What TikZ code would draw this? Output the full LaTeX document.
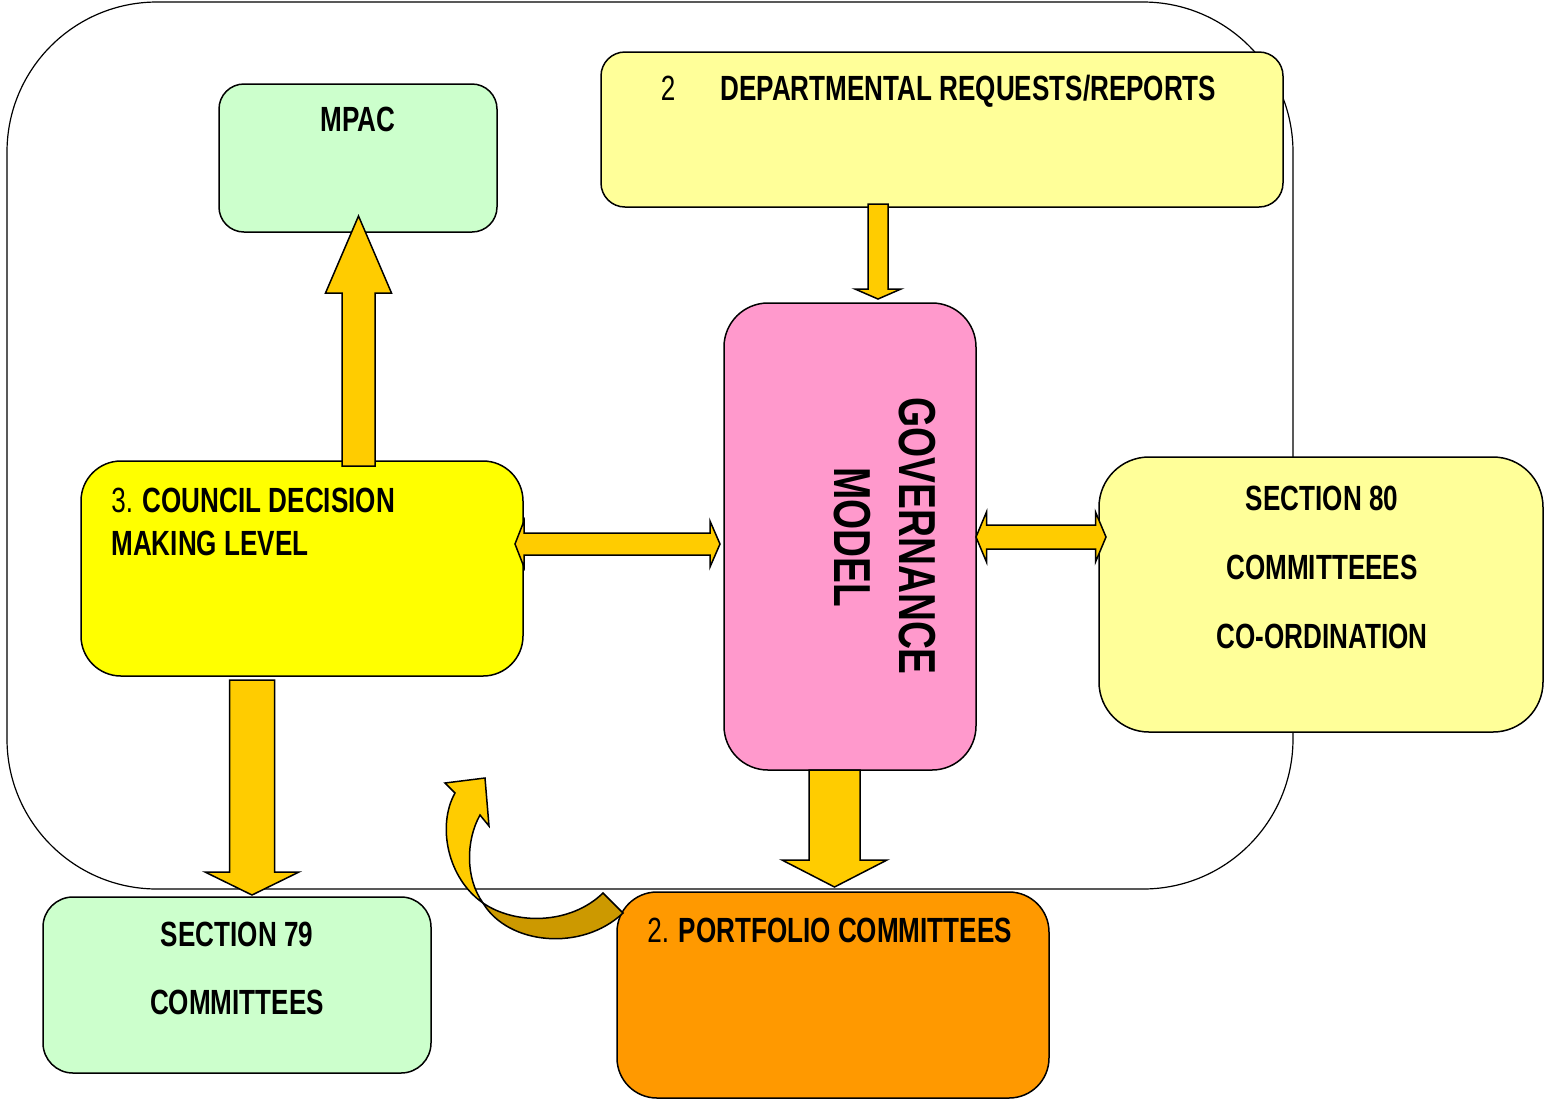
\documentclass[tikz,border=0pt]{standalone}
\usepackage{fontspec}
\setmainfont{Liberation Sans}[FakeStretch=0.745]
\usetikzlibrary{calc}
\definecolor{mpacgreen}{HTML}{CCFFCC}
\definecolor{paleyellow}{HTML}{FFFF99}
\definecolor{brightyellow}{HTML}{FFFF00}
\definecolor{govpink}{HTML}{FF99CC}
\definecolor{portorange}{HTML}{FF9900}
\definecolor{arrowgold}{HTML}{FFCC00}
\definecolor{arrowdark}{HTML}{CC9900}
\begin{document}
\begin{tikzpicture}[x=0.5pt,y=-0.5pt,
  boxstyle/.style={draw=black, line width=0.75pt, rectangle, inner sep=0pt},
  lbl/.style={font=\fontsize{17.5}{21}\selectfont\bfseries, inner sep=0pt},
  govlbl/.style={font=\fontsize{26}{30}\selectfont\bfseries, inner sep=0pt, rotate=-90, anchor=base},
  fatarrow/.style={draw=black, line width=0.75pt, fill=arrowgold, line join=miter}]
\useasboundingbox (0,0) rectangle (1544,1100);
% outer frame
\draw[line width=0.6pt, rounded corners=75pt] (7,2) rectangle (1293,889);
% boxes
\node[boxstyle, fill=mpacgreen, rounded corners=12.5pt, minimum width=139pt, minimum height=74pt] (mpac) at (358,158) {};
\node[boxstyle, fill=paleyellow, rounded corners=12pt, minimum width=341pt, minimum height=77.5pt] (dept) at (942,129.5) {};
\node[boxstyle, fill=govpink, rounded corners=22pt, minimum width=126pt, minimum height=233.5pt] (gov) at (850,536.5) {};
\node[boxstyle, fill=brightyellow, rounded corners=20pt, minimum width=221pt, minimum height=107.5pt] (council) at (302,568.5) {};
\node[boxstyle, fill=paleyellow, rounded corners=25pt, minimum width=222pt, minimum height=137.5pt] (sec80) at (1321,594.5) {};
\node[boxstyle, fill=mpacgreen, rounded corners=15pt, minimum width=194pt, minimum height=88pt] (sec79) at (237,985) {};
\node[boxstyle, fill=portorange, rounded corners=20pt, minimum width=216pt, minimum height=103pt] (port) at (833,995) {};
% texts
\node[lbl, anchor=base] (tmpac) at (358,131.5) {MPAC};
\node[lbl, anchor=base, font=\fontsize{17.5}{21}\selectfont] (tdeptnum) at (668,100.5) {2};
\node[lbl, anchor=base west] (tdept) at (720,100.5) {DEPARTMENTAL REQUESTS/REPORTS};
\node[lbl, anchor=base west] (tcouncila) at (111,512.5) {\mdseries 3. \bfseries COUNCIL DECISION};
\node[lbl, anchor=base west] (tcouncilb) at (111,555.5) {MAKING LEVEL};
\node[lbl, anchor=base] (tsa) at (1322,510.5) {SECTION 80};
\node[lbl, anchor=base] (tsb) at (1322,579.5) {COMMITTEEES};
\node[lbl, anchor=base] (tsc) at (1322,648.5) {CO-ORDINATION};
\node[lbl, anchor=base] (tsd) at (237,946.5) {SECTION 79};
\node[lbl, anchor=base] (tse) at (237,1014.5) {COMMITTEES};
\node[lbl, anchor=base west] (tport) at (647,942.5) {\mdseries 2. \bfseries PORTFOLIO COMMITTEES};
\node[govlbl] (tgova) at (899,536) {GOVERNANCE};
\node[govlbl] (tgovb) at (834,537) {MODEL};
% arrow end coordinates
\coordinate (upS) at (358.5,466);
\coordinate (upT) at (358.5,216);
\coordinate (dpS) at (878,204);
\coordinate (dpT) at (878,299);
\coordinate (cgL) at (515,544);
\coordinate (cgR) at (720,544);
\coordinate (gsL) at (976,537);
\coordinate (gsR) at (1106,537);
\coordinate (c7S) at (252,680);
\coordinate (c7T) at (252,895);
\coordinate (gpS) at (834.5,770);
\coordinate (gpT) at (834.5,887);
% council -> MPAC
\draw[fatarrow] ($(upS)+(-16.5,0)$) -- ($(upS)+(16.5,0)$) -- ($(upT)+(16.5,77)$) -- ($(upT)+(33,77)$) -- (upT) -- ($(upT)+(-33,77)$) -- ($(upT)+(-16.5,77)$) -- cycle;
% dept -> governance
\draw[fatarrow] ($(dpS)+(-10,0)$) -- ($(dpS)+(10,0)$) -- ($(dpT)+(10,-10)$) -- ($(dpT)+(23,-10)$) -- (dpT) -- ($(dpT)+(-23,-10)$) -- ($(dpT)+(-10,-10)$) -- cycle;
% council <-> governance
\draw[fatarrow] (cgL) -- ($(cgL)+(9,-23)$) -- ($(cgL)+(9,-11)$) -- ($(cgR)+(-10,-11)$) -- ($(cgR)+(-10,-23)$) -- (cgR) -- ($(cgR)+(-10,23)$) -- ($(cgR)+(-10,11)$) -- ($(cgL)+(9,11)$) -- ($(cgL)+(9,23)$) -- cycle;
% governance <-> section 80
\draw[fatarrow] (gsL) -- ($(gsL)+(10.5,-25)$) -- ($(gsL)+(10.5,-12)$) -- ($(gsR)+(-10.5,-12)$) -- ($(gsR)+(-10.5,-25)$) -- (gsR) -- ($(gsR)+(-10.5,25)$) -- ($(gsR)+(-10.5,12)$) -- ($(gsL)+(10.5,12)$) -- ($(gsL)+(10.5,25)$) -- cycle;
% council -> section 79
\draw[fatarrow] ($(c7S)+(-22.5,0)$) -- ($(c7S)+(22.5,0)$) -- ($(c7T)+(22.5,-23)$) -- ($(c7T)+(47,-23)$) -- (c7T) -- ($(c7T)+(-47,-23)$) -- ($(c7T)+(-22.5,-23)$) -- cycle;
% governance -> portfolio
\draw[fatarrow] ($(gpS)+(-25.5,0)$) -- ($(gpS)+(25.5,0)$) -- ($(gpT)+(25.5,-27)$) -- ($(gpT)+(52.5,-27)$) -- (gpT) -- ($(gpT)+(-52.5,-27)$) -- ($(gpT)+(-25.5,-27)$) -- cycle;
% curved arrow from portfolio
\coordinate (cvE1) at (623,913);
\coordinate (cvE2) at (603,893);
\coordinate (cvM) at (483,903);
\coordinate (cvTip) at (485,778);
\draw[fatarrow, fill=arrowdark] (cvM) .. controls (508,945) and (582,952) .. (cvE1) -- (cvE2) .. controls (570,925) and (515,925) .. (cvM) -- cycle;
\draw[fatarrow] (455,793) -- (445,783) -- (cvTip) -- (489,826) -- (480,815) .. controls (466,840) and (465,878) .. (cvM) .. controls (447,878) and (437,825) .. (455,793) -- cycle;
\end{tikzpicture}
\end{document}
